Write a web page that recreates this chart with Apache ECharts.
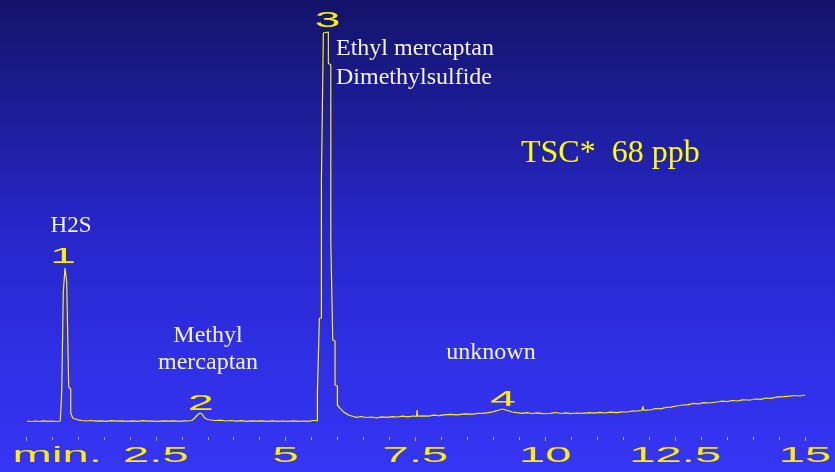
<!DOCTYPE html>
<html>
<head>
<meta charset="utf-8">
<script src="https://cdn.jsdelivr.net/npm/echarts@6/dist/echarts.min.js"></script>
<style>
html, body { margin: 0; padding: 0; }
#chromChart { width: 835px; height: 472px; }
</style>
</head>
<body>
<div id="chromChart"></div>
<script>
// retention time (min) and detector signal
var minutes = [
  0.02, 0.10, 0.18, 0.26, 0.34, 0.42, 0.50, 0.58, 0.66,
  0.688, 0.688, 0.718, 0.718, 0.751, 0.751, 0.784, 0.784, 0.822, 0.822, 0.861, 0.861, 0.899, 0.899,
  0.95, 1.00, 1.08, 1.16, 1.25, 1.35, 1.45, 1.55, 1.65, 1.75, 1.85, 1.95, 2.05, 2.15, 2.25, 2.35,
  2.45, 2.55, 2.65, 2.75, 2.85, 2.95, 3.05, 3.12,
  3.19, 3.25, 3.30, 3.35, 3.39, 3.43, 3.48, 3.55, 3.65, 3.75, 3.85, 3.95, 4.05, 4.15, 4.25, 4.35,
  4.45, 4.55, 4.65, 4.75, 4.85, 4.95, 5.05, 5.15, 5.25, 5.35, 5.45, 5.52, 5.56, 5.586,
  5.611, 5.611, 5.649, 5.649, 5.688, 5.688, 5.726, 5.726, 5.822, 5.822, 5.869, 5.869, 5.907, 5.907,
  5.951, 5.951, 5.996, 5.996, 6.048, 6.111, 6.208, 6.30, 6.37, 6.45, 6.55, 6.65, 6.75, 6.85, 6.95,
  7.05, 7.15, 7.25, 7.35, 7.45, 7.52, 7.53, 7.54, 7.65, 7.75, 7.85, 7.95, 8.05, 8.166, 8.30, 8.45,
  8.60, 8.70, 8.802, 8.90, 9.00, 9.066, 9.162, 9.22, 9.284, 9.36, 9.451, 9.55, 9.65, 9.75, 9.85,
  9.95, 10.092, 10.20, 10.30, 10.40, 10.50, 10.60, 10.728, 10.85, 10.95, 11.05, 11.15, 11.25,
  11.377, 11.47, 11.57, 11.67, 11.762, 11.86, 11.878, 11.89, 12.018, 12.12, 12.22, 12.32, 12.42,
  12.52, 12.66, 12.75, 12.85, 12.95, 13.05, 13.15, 13.303, 13.40, 13.50, 13.60, 13.70, 13.80,
  13.945, 14.05, 14.15, 14.25, 14.35, 14.45, 14.586, 14.70, 14.80, 14.90, 15.00
];
var signal = [
  1, 0.5, 1, 0.5, 1.2, 0.6, 1, 0.5, 1,
  1, 30, 31, 130, 131, 154, 154, 140, 138, 35, 33, 9, 8, 4,
  3, 2.2, 1.5, 1, 1.5, 0.8, 1.2, 0.7, 1.3, 0.8, 1.2, 0.6, 1.1, 0.7, 1.3, 0.8,
  1, 0.6, 1.2, 0.8, 1.1, 0.7, 1.2, 1,
  1.5, 4, 7, 9, 8, 4.5, 3, 2, 1.5, 1.8, 1, 1.5, 0.8, 1.3, 0.7, 1.2,
  0.8, 1.1, 0.6, 1.2, 0.7, 1, 0.6, 1.1, 0.7, 1, 0.6, 1.5, 1.5, 1,
  1, 28.7, 29, 103.7, 104, 240, 241, 389, 390, 358.7, 357, 180, 179, 82,
  81, 37, 36, 17, 13.7, 10.3, 7, 5.5, 4.7, 5.5, 4.5, 5, 4.2, 5.2, 4.6,
  5.4, 5, 5.8, 5.2, 6, 5.6, 12, 5.8, 6.2, 5.8, 6.8, 6.3, 7.2, 7.7, 7.2, 8.2,
  7.8, 8.6, 8.7, 9.3, 10.3, 11.3, 13, 12.3, 11.3, 10, 9.3, 8.6, 9.4, 8.5, 9.2,
  8.4, 8.7, 9.5, 8.5, 9.2, 8.3, 9, 8.7, 9.4, 8.8, 9.6, 9, 9.8,
  9.3, 10.2, 10, 10.8, 11, 11.5, 16, 11.8, 12, 13.5, 13.2, 14.6, 14.8,
  16, 17, 17.4, 18.6, 18.2, 19.4, 19, 20, 20.8, 20.3, 21.5, 21, 22.2,
  22, 23, 22.6, 24, 23.6, 24.8, 25.3, 25.8, 26.5, 26, 27
];

// x axis tick labels
var tickValues = [2.5, 5, 7.5, 10, 12.5, 15];
var tickLabels = ['2.5', '5', '7.5', '10', '12.5', '15'];
var unitLabel = 'min.';
var unitAt = 0.6;

// peak numbers: [label, time, signal where the number sits]
var peakNames = ['1', '2', '3', '4'];
var peakTimes = [0.713, 3.365, 5.807, 9.187];
var peakLabelLevels = [165, 18, 401, 22.5];

var yellow = '#ffee00';
var white = '#f4f4f4';
var serif = '"Liberation Serif", "Times New Roman", serif';
var wideSans = '22px "Liberation Sans", Arial, sans-serif';

var myChart = echarts.init(document.getElementById('chromChart'));

var trace = minutes.map(function (t, i) { return [t, signal[i]]; });

var option = {
    animation: false,
    backgroundColor: {
        type: 'linear', x: 0, y: 0, x2: 0, y2: 1,
        colorStops: [
            {offset: 0, color: '#13136a'},
            {offset: 0.32, color: '#2020a8'},
            {offset: 0.47, color: '#2626c8'},
            {offset: 0.72, color: '#2e2ee2'},
            {offset: 1, color: '#3535f5'}
        ]
    },
    // y runs below the baseline so the tick row sits ~15px under it
    grid: {left: 26, right: 30, top: 2, bottom: 35},
    xAxis: {
        type: 'value',
        min: 0,
        max: 15,
        interval: 2.5,
        axisLine: {show: false, onZero: false},
        splitLine: {show: false},
        axisLabel: {show: false},
        axisTick: {show: true, length: 4, lineStyle: {color: '#a8a898'}},
        minorTick: {show: true, splitNumber: 5, length: 3, lineStyle: {color: '#b8b088'}}
    },
    yAxis: {
        type: 'value',
        min: -15,
        max: 420,
        show: false,
        splitLine: {show: false}
    },
    series: [{
        type: 'line',
        data: trace,
        showSymbol: false,
        lineStyle: {color: yellow, width: 1.2}
    }]
};
myChart.setOption(option);

// overlay texts: axis labels use a horizontally stretched sans like the original
var g = [];
var axisY = myChart.convertToPixel({gridIndex: 0}, [0, 0])[1] + 34;
tickValues.forEach(function (v, i) {
    var p = myChart.convertToPixel({gridIndex: 0}, [v, 0]);
    g.push({type: 'text', x: p[0], y: axisY, scaleX: 2.15,
        style: {text: tickLabels[i], font: wideSans, fill: yellow, align: 'center', verticalAlign: 'middle'}});
});
var up = myChart.convertToPixel({gridIndex: 0}, [unitAt, 0]);
g.push({type: 'text', x: up[0], y: axisY, scaleX: 2.15,
    style: {text: unitLabel, font: wideSans, fill: yellow, align: 'center', verticalAlign: 'middle'}});

peakNames.forEach(function (name, i) {
    var p = myChart.convertToPixel({gridIndex: 0}, [peakTimes[i], peakLabelLevels[i]]);
    g.push({type: 'text', x: p[0], y: p[1], scaleX: 2.1,
        style: {text: name, font: wideSans, fill: yellow, align: 'center', verticalAlign: 'middle'}});
});

g.push({type: 'text', x: 71, y: 226,
    style: {text: 'H2S', font: '23px ' + serif, fill: white, align: 'center', verticalAlign: 'middle'}});
g.push({type: 'text', x: 208, y: 349,
    style: {text: 'Methyl\nmercaptan', font: '24px ' + serif, lineHeight: 27, fill: white, align: 'center', verticalAlign: 'middle'}});
g.push({type: 'text', x: 336, y: 63,
    style: {text: 'Ethyl mercaptan\nDimethylsulfide', font: '24px ' + serif, lineHeight: 28.5, fill: white, align: 'left', verticalAlign: 'middle'}});
g.push({type: 'text', x: 491, y: 353,
    style: {text: 'unknown', font: '24px ' + serif, fill: white, align: 'center', verticalAlign: 'middle'}});
g.push({type: 'text', x: 521, y: 154,
    style: {text: 'TSC*  68 ppb', font: '32px ' + serif, fill: '#ffff00', align: 'left', verticalAlign: 'middle'}});

myChart.setOption({graphic: g});
</script>
</body>
</html>
